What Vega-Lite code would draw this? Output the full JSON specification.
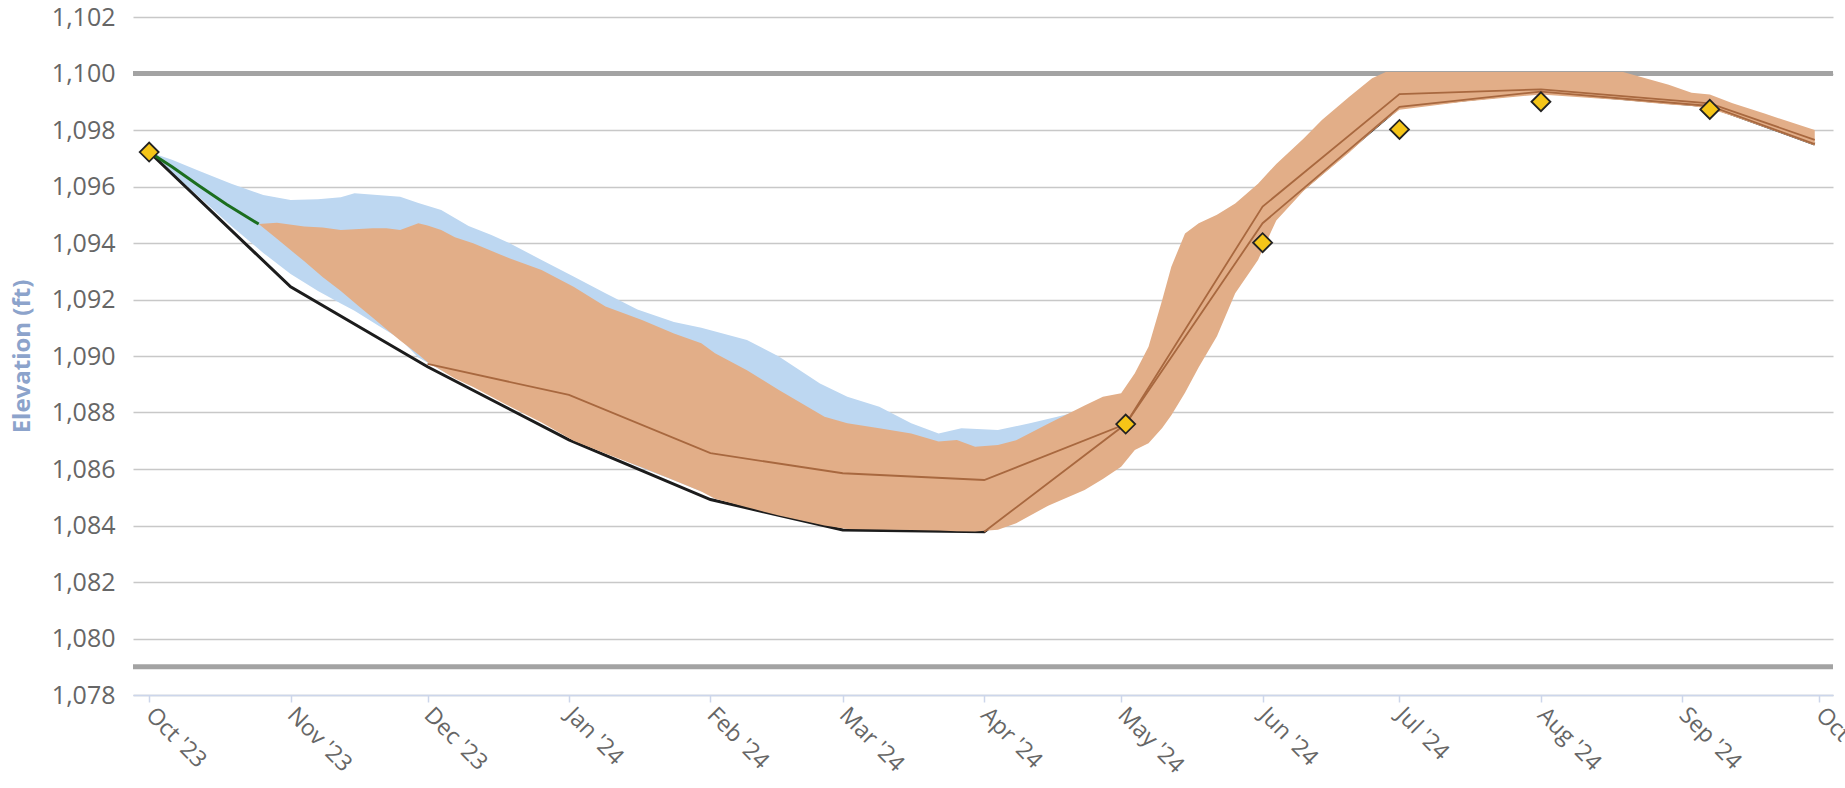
{
  "$schema": "https://vega.github.io/schema/vega-lite/v6.json",
  "width": 1700,
  "height": 678,
  "autosize": {"type": "none"},
  "padding": {"left": 133, "top": 17, "right": 12, "bottom": 93},
  "background": "white",
  "config": {
    "view": {"stroke": null},
    "font": "Open Sans",
    "axisX": {
      "labelAngle": 45, "labelAlign": "left", "labelBaseline": "middle",
      "labelPadding": 9, "labelFontSize": 23, "labelColor": "#666666", "labelFont": "Open Sans",
      "labelOverlap": false, "labelFlush": false, "labelBound": false,
      "tickColor": "#ccd6eb", "tickSize": 7, "tickWidth": 1.5,
      "domainColor": "#ccd6eb", "domainWidth": 1.5, "grid": false
    },
    "axisY": {
      "grid": true, "gridColor": "#c8c8c8", "gridWidth": 1.5,
      "domain": false, "ticks": false,
      "labelPadding": 18, "labelFontSize": 25, "labelColor": "#666666", "labelFont": "Open Sans",
      "titleFont": "Open Sans", "titleFontSize": 24, "titleFontWeight": "bold", "titleColor": "#8ca3cb", "titlePadding": 17
    }
  },
  "datasets": {
    "limits": [{"v": 1100}, {"v": 1079}],
    "blue": [
      {"date": "2023-10-01T00:00:00", "lo": 1097.22, "v": 1097.22},
      {"date": "2023-10-06T00:00:00", "lo": 1096.5, "v": 1096.95},
      {"date": "2023-10-12T00:00:00", "lo": 1095.62, "v": 1096.55},
      {"date": "2023-10-19T00:00:00", "lo": 1094.6, "v": 1096.1},
      {"date": "2023-10-26T00:00:00", "lo": 1093.65, "v": 1095.7},
      {"date": "2023-11-01T00:00:00", "lo": 1092.9, "v": 1095.52},
      {"date": "2023-11-07T00:00:00", "lo": 1092.3, "v": 1095.55},
      {"date": "2023-11-12T00:00:00", "lo": 1091.86, "v": 1095.62},
      {"date": "2023-11-15T00:00:00", "lo": 1091.6, "v": 1095.76},
      {"date": "2023-11-20T00:00:00", "lo": 1091.1, "v": 1095.7},
      {"date": "2023-11-25T00:00:00", "lo": 1090.6, "v": 1095.64},
      {"date": "2023-11-29T00:00:00", "lo": 1089.95, "v": 1095.42},
      {"date": "2023-12-04T00:00:00", "lo": 1089.5, "v": 1095.17},
      {"date": "2023-12-10T00:00:00", "lo": 1089.0, "v": 1094.6},
      {"date": "2023-12-15T00:00:00", "lo": 1088.6, "v": 1094.28},
      {"date": "2023-12-19T00:00:00", "lo": 1088.3, "v": 1093.99},
      {"date": "2023-12-26T00:00:00", "lo": 1087.7, "v": 1093.4},
      {"date": "2024-01-02T00:00:00", "lo": 1087.05, "v": 1092.81},
      {"date": "2024-01-09T00:00:00", "lo": 1086.6, "v": 1092.22},
      {"date": "2024-01-16T00:00:00", "lo": 1086.1, "v": 1091.65},
      {"date": "2024-01-24T00:00:00", "lo": 1085.6, "v": 1091.2},
      {"date": "2024-01-30T00:00:00", "lo": 1085.2, "v": 1091.0},
      {"date": "2024-02-09T00:00:00", "lo": 1084.7, "v": 1090.57},
      {"date": "2024-02-16T00:00:00", "lo": 1084.4, "v": 1089.98},
      {"date": "2024-02-25T00:00:00", "lo": 1084.05, "v": 1089.03},
      {"date": "2024-03-02T00:00:00", "lo": 1083.9, "v": 1088.56},
      {"date": "2024-03-09T00:00:00", "lo": 1083.88, "v": 1088.2},
      {"date": "2024-03-16T00:00:00", "lo": 1083.86, "v": 1087.62},
      {"date": "2024-03-22T00:00:00", "lo": 1083.85, "v": 1087.26},
      {"date": "2024-03-27T00:00:00", "lo": 1083.85, "v": 1087.44},
      {"date": "2024-04-04T00:00:00", "lo": 1084.0, "v": 1087.38},
      {"date": "2024-04-11T00:00:00", "lo": 1084.5, "v": 1087.62},
      {"date": "2024-04-17T00:00:00", "lo": 1084.9, "v": 1087.85},
      {"date": "2024-04-23T00:00:00", "lo": 1085.3, "v": 1088.1}
    ],
    "tan": [
      {"date": "2023-10-25T00:00:00", "lo": 1094.67, "v": 1094.67},
      {"date": "2023-10-29T00:00:00", "lo": 1094.15, "v": 1094.72},
      {"date": "2023-11-04T00:00:00", "lo": 1093.35, "v": 1094.58},
      {"date": "2023-11-08T00:00:00", "lo": 1092.8, "v": 1094.55},
      {"date": "2023-11-12T00:00:00", "lo": 1092.3, "v": 1094.46},
      {"date": "2023-11-16T00:00:00", "lo": 1091.75, "v": 1094.5},
      {"date": "2023-11-19T00:00:00", "lo": 1091.35, "v": 1094.52},
      {"date": "2023-11-22T00:00:00", "lo": 1090.95, "v": 1094.52},
      {"date": "2023-11-25T00:00:00", "lo": 1090.55, "v": 1094.46},
      {"date": "2023-11-29T00:00:00", "lo": 1090.05, "v": 1094.7},
      {"date": "2023-12-01T00:00:00", "lo": 1089.78, "v": 1094.62},
      {"date": "2023-12-04T00:00:00", "lo": 1089.5, "v": 1094.46},
      {"date": "2023-12-07T00:00:00", "lo": 1089.2, "v": 1094.2},
      {"date": "2023-12-11T00:00:00", "lo": 1088.9, "v": 1093.99},
      {"date": "2023-12-18T00:00:00", "lo": 1088.3, "v": 1093.52},
      {"date": "2023-12-26T00:00:00", "lo": 1087.65, "v": 1093.04},
      {"date": "2024-01-02T00:00:00", "lo": 1087.0, "v": 1092.45},
      {"date": "2024-01-09T00:00:00", "lo": 1086.55, "v": 1091.75},
      {"date": "2024-01-17T00:00:00", "lo": 1086.05, "v": 1091.27},
      {"date": "2024-01-24T00:00:00", "lo": 1085.6, "v": 1090.8},
      {"date": "2024-01-30T00:00:00", "lo": 1085.2, "v": 1090.45},
      {"date": "2024-02-02T00:00:00", "lo": 1084.95, "v": 1090.1},
      {"date": "2024-02-09T00:00:00", "lo": 1084.65, "v": 1089.5},
      {"date": "2024-02-16T00:00:00", "lo": 1084.35, "v": 1088.8},
      {"date": "2024-02-26T00:00:00", "lo": 1084.0, "v": 1087.85},
      {"date": "2024-03-02T00:00:00", "lo": 1083.88, "v": 1087.62},
      {"date": "2024-03-09T00:00:00", "lo": 1083.86, "v": 1087.44},
      {"date": "2024-03-16T00:00:00", "lo": 1083.84, "v": 1087.26},
      {"date": "2024-03-22T00:00:00", "lo": 1083.82, "v": 1086.97},
      {"date": "2024-03-26T00:00:00", "lo": 1083.8, "v": 1087.03},
      {"date": "2024-03-30T00:00:00", "lo": 1083.79, "v": 1086.79},
      {"date": "2024-04-04T00:00:00", "lo": 1083.85, "v": 1086.85},
      {"date": "2024-04-08T00:00:00", "lo": 1084.08, "v": 1087.02},
      {"date": "2024-04-15T00:00:00", "lo": 1084.7, "v": 1087.6},
      {"date": "2024-04-23T00:00:00", "lo": 1085.26, "v": 1088.25},
      {"date": "2024-04-27T00:00:00", "lo": 1085.65, "v": 1088.56},
      {"date": "2024-05-01T00:00:00", "lo": 1086.08, "v": 1088.68},
      {"date": "2024-05-04T00:00:00", "lo": 1086.67, "v": 1089.39},
      {"date": "2024-05-07T00:00:00", "lo": 1086.91, "v": 1090.33},
      {"date": "2024-05-10T00:00:00", "lo": 1087.45, "v": 1091.98},
      {"date": "2024-05-12T00:00:00", "lo": 1087.9, "v": 1093.16},
      {"date": "2024-05-15T00:00:00", "lo": 1088.7, "v": 1094.34},
      {"date": "2024-05-18T00:00:00", "lo": 1089.6, "v": 1094.7},
      {"date": "2024-05-22T00:00:00", "lo": 1090.7, "v": 1095.0},
      {"date": "2024-05-26T00:00:00", "lo": 1092.22, "v": 1095.4},
      {"date": "2024-05-31T00:00:00", "lo": 1093.4, "v": 1096.1},
      {"date": "2024-06-04T00:00:00", "lo": 1094.8, "v": 1096.8},
      {"date": "2024-06-10T00:00:00", "lo": 1095.85, "v": 1097.7},
      {"date": "2024-06-14T00:00:00", "lo": 1096.4, "v": 1098.35},
      {"date": "2024-06-20T00:00:00", "lo": 1097.2, "v": 1099.18},
      {"date": "2024-06-25T00:00:00", "lo": 1097.95, "v": 1099.83},
      {"date": "2024-06-28T00:00:00", "lo": 1098.35, "v": 1100.05},
      {"date": "2024-07-01T00:00:00", "lo": 1098.72, "v": 1100.05},
      {"date": "2024-07-15T00:00:00", "lo": 1099.0, "v": 1100.05},
      {"date": "2024-08-01T00:00:00", "lo": 1099.26, "v": 1100.05},
      {"date": "2024-08-19T00:00:00", "lo": 1099.05, "v": 1100.05},
      {"date": "2024-08-29T00:00:00", "lo": 1098.9, "v": 1099.6},
      {"date": "2024-09-03T00:00:00", "lo": 1098.85, "v": 1099.32},
      {"date": "2024-09-07T00:00:00", "lo": 1098.75, "v": 1099.26},
      {"date": "2024-09-12T00:00:00", "lo": 1098.5, "v": 1098.95},
      {"date": "2024-09-19T00:00:00", "lo": 1098.1, "v": 1098.58},
      {"date": "2024-09-30T00:00:00", "lo": 1097.45, "v": 1098.0}
    ],
    "black": [
      {"date": "2023-10-01T00:00:00", "v": 1097.22},
      {"date": "2023-11-01T00:00:00", "v": 1092.45},
      {"date": "2023-12-01T00:00:00", "v": 1089.62},
      {"date": "2024-01-01T00:00:00", "v": 1087.03},
      {"date": "2024-02-01T00:00:00", "v": 1084.92},
      {"date": "2024-03-01T00:00:00", "v": 1083.84},
      {"date": "2024-04-01T00:00:00", "v": 1083.78},
      {"date": "2024-05-02T00:00:00", "v": 1087.59},
      {"date": "2024-06-01T00:00:00", "v": 1094.7},
      {"date": "2024-07-01T00:00:00", "v": 1098.82},
      {"date": "2024-08-01T00:00:00", "v": 1099.36},
      {"date": "2024-09-07T00:00:00", "v": 1098.85},
      {"date": "2024-09-30T00:00:00", "v": 1097.5}
    ],
    "brownUpper": [
      {"date": "2023-12-01T00:00:00", "v": 1089.72},
      {"date": "2024-01-01T00:00:00", "v": 1088.62},
      {"date": "2024-02-01T00:00:00", "v": 1086.56},
      {"date": "2024-03-01T00:00:00", "v": 1085.85},
      {"date": "2024-04-01T00:00:00", "v": 1085.61},
      {"date": "2024-05-02T00:00:00", "v": 1087.59},
      {"date": "2024-06-01T00:00:00", "v": 1095.29},
      {"date": "2024-07-01T00:00:00", "v": 1099.27},
      {"date": "2024-08-01T00:00:00", "v": 1099.44},
      {"date": "2024-09-07T00:00:00", "v": 1098.94},
      {"date": "2024-09-30T00:00:00", "v": 1097.65}
    ],
    "brownLower": [
      {"date": "2024-04-01T00:00:00", "v": 1083.78},
      {"date": "2024-05-02T00:00:00", "v": 1087.59},
      {"date": "2024-06-01T00:00:00", "v": 1094.7},
      {"date": "2024-07-01T00:00:00", "v": 1098.82},
      {"date": "2024-08-01T00:00:00", "v": 1099.36},
      {"date": "2024-09-07T00:00:00", "v": 1098.85},
      {"date": "2024-09-30T00:00:00", "v": 1097.5}
    ],
    "green": [
      {"date": "2023-10-01T00:00:00", "v": 1097.22},
      {"date": "2023-10-06T00:00:00", "v": 1096.7},
      {"date": "2023-10-12T00:00:00", "v": 1096.02},
      {"date": "2023-10-18T00:00:00", "v": 1095.36},
      {"date": "2023-10-25T00:00:00", "v": 1094.67}
    ],
    "obs": [
      {"date": "2023-10-01T00:00:00", "v": 1097.22},
      {"date": "2024-05-02T00:00:00", "v": 1087.59},
      {"date": "2024-06-01T00:00:00", "v": 1094.01},
      {"date": "2024-07-01T00:00:00", "v": 1098.02},
      {"date": "2024-08-01T00:00:00", "v": 1099.0},
      {"date": "2024-09-07T00:00:00", "v": 1098.73}
    ]
  },
  "layer": [
    {
      "data": {"name": "limits"},
      "mark": {"type": "rule", "color": "#a3a3a3", "strokeWidth": 5},
      "encoding": {
        "y": {
          "field": "v", "type": "quantitative", "title": "Elevation (ft)",
          "scale": {"domain": [1078, 1102], "nice": false, "zero": false},
          "axis": {
            "values": [1078, 1080, 1082, 1084, 1086, 1088, 1090, 1092, 1094, 1096, 1098, 1100, 1102],
            "format": ",d"
          }
        }
      }
    },
    {
      "encoding": {
        "x": {
          "field": "date", "type": "temporal", "title": null,
          "scale": {"domain": [{"year": 2023, "month": "sep", "date": 27, "hours": 11}, {"year": 2024, "month": "oct", "date": 4}]},
          "axis": {
            "values": [
              {"year": 2023, "month": "oct", "date": 1}, {"year": 2023, "month": "nov", "date": 1}, {"year": 2023, "month": "dec", "date": 1},
              {"year": 2024, "month": "jan", "date": 1}, {"year": 2024, "month": "feb", "date": 1}, {"year": 2024, "month": "mar", "date": 1},
              {"year": 2024, "month": "apr", "date": 1}, {"year": 2024, "month": "may", "date": 1}, {"year": 2024, "month": "jun", "date": 1},
              {"year": 2024, "month": "jul", "date": 1}, {"year": 2024, "month": "aug", "date": 1}, {"year": 2024, "month": "sep", "date": 1},
              {"year": 2024, "month": "oct", "date": 1}
            ],
            "format": "%b '%y"
          }
        },
        "y": {
          "field": "v", "type": "quantitative", "title": "Elevation (ft)",
          "scale": {"domain": [1078, 1102], "nice": false, "zero": false},
          "axis": {
            "values": [1078, 1080, 1082, 1084, 1086, 1088, 1090, 1092, 1094, 1096, 1098, 1100, 1102],
            "format": ",d"
          }
        }
      },
      "layer": [
        {
          "data": {"name": "blue"},
          "mark": {"type": "area", "color": "#bdd7f1", "opacity": 1},
          "encoding": {"y2": {"field": "lo"}}
        },
        {
          "data": {"name": "black"},
          "mark": {"type": "line", "color": "#1c1c1c", "strokeWidth": 3}
        },
        {
          "data": {"name": "tan"},
          "mark": {"type": "area", "color": "#e2ae88", "opacity": 1},
          "encoding": {"y2": {"field": "lo"}}
        },
        {
          "data": {"name": "brownUpper"},
          "mark": {"type": "line", "color": "#a8683f", "strokeWidth": 1.8}
        },
        {
          "data": {"name": "brownLower"},
          "mark": {"type": "line", "color": "#a8683f", "strokeWidth": 1.8}
        },
        {
          "data": {"name": "green"},
          "mark": {"type": "line", "color": "#1b6e1f", "strokeWidth": 3}
        },
        {
          "data": {"name": "obs"},
          "mark": {"type": "point", "shape": "diamond", "filled": true, "fill": "#f5c518", "stroke": "#222222", "strokeWidth": 1.8, "size": 360, "opacity": 1}
        }
      ]
    }
  ]
}
